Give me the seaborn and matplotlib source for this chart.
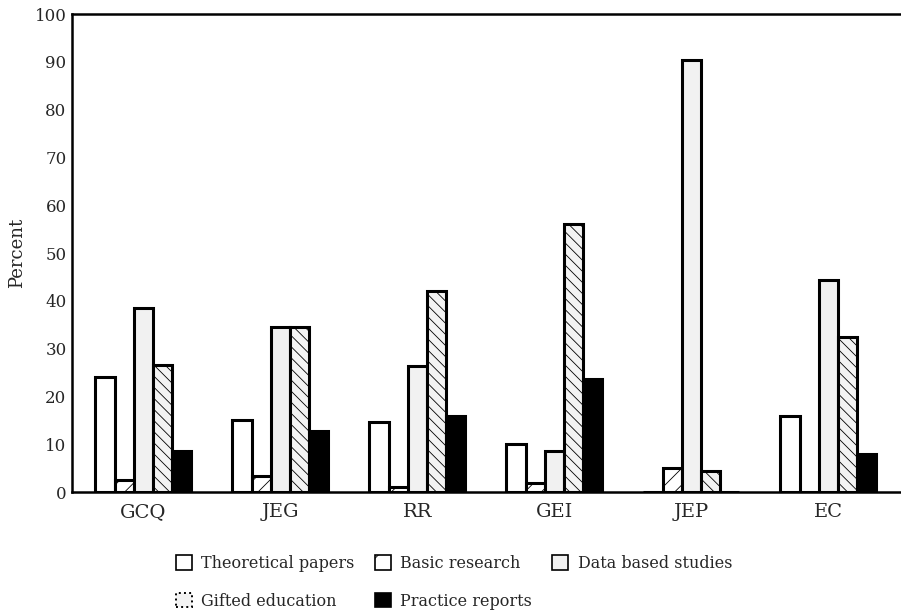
import pandas as pd
import matplotlib.pyplot as plt
import seaborn as sns
from matplotlib.patches import Patch

# Data
journals = ["GCQ", "JEG", "RR", "GEI", "JEP", "EC"]
series = ["Theoretical papers", "Basic research", "Data based studies",
          "Gifted education", "Practice reports"]
theoretical = [24.1, 15.2, 14.6, 10.1, 0, 16.0]
basic = [2.5, 3.5, 1.0, 2.0, 5.0, 0]
data_based = [38.5, 34.5, 26.5, 8.6, 90.5, 44.3]
gifted = [26.6, 34.5, 42.0, 56.0, 4.5, 32.5]
practice = [8.6, 12.8, 16.0, 23.6, 0, 8.0]

values = [theoretical, basic, data_based, gifted, practice]
rows = []
for s, vals in zip(series, values):
    for j, v in zip(journals, vals):
        rows.append({"Journal": j, "Type": s, "Percent": v})
df = pd.DataFrame(rows)

sns.set_style("white")
plt.rcParams['font.family'] = ['DejaVu Serif']
plt.rcParams['hatch.linewidth'] = 0.6

faces = ["white", "white", "#f1f1f1", "#f3f3f3", "black"]
hatches = ["", "//", "", "\\\\\\", ""]

fig = plt.figure(figsize=(9.01, 6.13), dpi=100)
ax = fig.add_axes([0.08, 0.197, 0.92, 0.78])

sns.barplot(data=df, x="Journal", y="Percent", hue="Type", order=journals,
            hue_order=series, width=0.7, ax=ax, legend=False,
            edgecolor="black", linewidth=2.2, color="white")

for cont, fc, h in zip(ax.containers, faces, hatches):
    for bar in cont:
        bar.set_facecolor(fc)
        bar.set_hatch(h)
        bar.set_edgecolor("black")

ax.set_ylim(0, 100)
ax.set_xlim(-0.52, 5.53)
ax.set_yticks(range(0, 101, 10))
ax.tick_params(axis="y", direction="in", length=6, width=1.5, labelsize=12, pad=4)
ax.tick_params(axis="x", length=0, labelsize=14, pad=8)
ax.set_xlabel("")
ax.set_ylabel("Percent", fontsize=13, labelpad=6)

for side in ["left", "bottom", "top"]:
    ax.spines[side].set_visible(True)
    ax.spines[side].set_color("black")
    ax.spines[side].set_linewidth(1.8)
ax.spines["right"].set_visible(False)

handles = [
    Patch(facecolor="white", edgecolor="black", linewidth=1.2),
    Patch(facecolor="white", edgecolor="black", linewidth=1.2, hatch="/"),
    Patch(facecolor="#f1f1f1", edgecolor="black", linewidth=1.2),
    Patch(facecolor="#f3f3f3", edgecolor="black", linewidth=1.4, linestyle=":"),
    Patch(facecolor="black", edgecolor="black", linewidth=1.2),
]
order = [0, 3, 1, 4, 2]
fig.legend([handles[i] for i in order], [series[i] for i in order],
           loc="lower left", bbox_to_anchor=(0.179, -0.018), ncol=3,
           frameon=False, fontsize=11.5, handlelength=1.0, handleheight=1.0,
           handletextpad=0.6, columnspacing=1.25, labelspacing=1.3)

fig.savefig("out.png", dpi=100)
